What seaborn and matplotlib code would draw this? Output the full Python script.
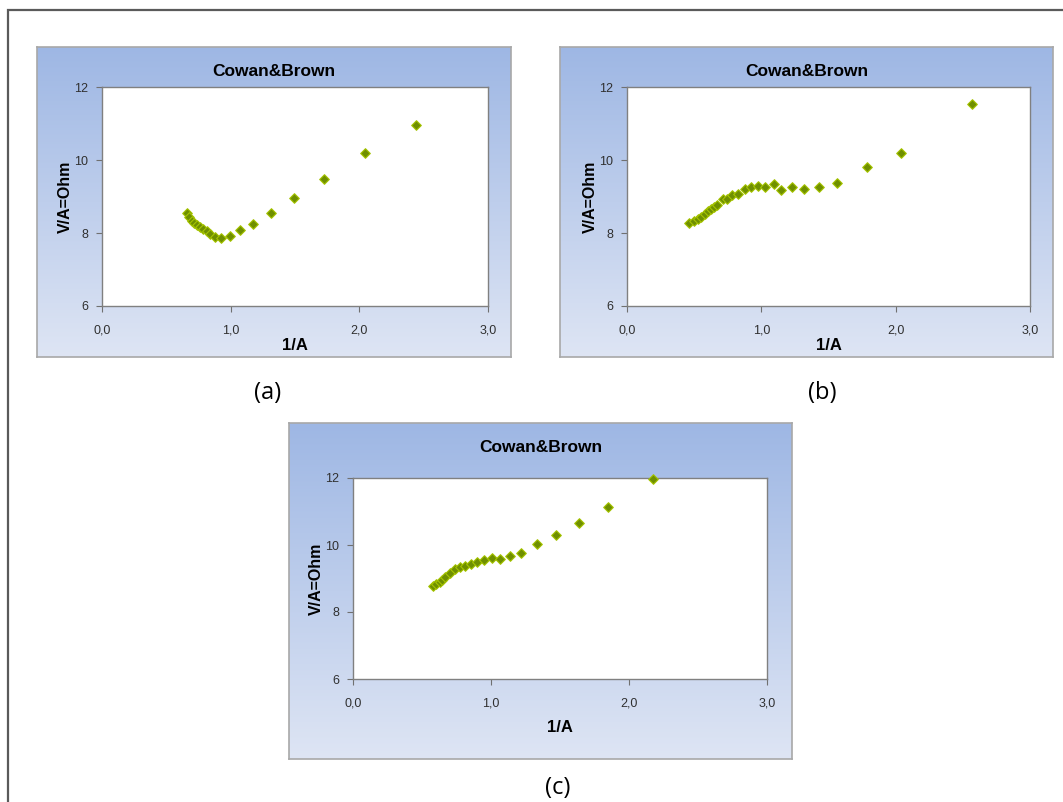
import numpy as np
import pandas as pd
import matplotlib
matplotlib.use("Agg")
import matplotlib.pyplot as plt
import seaborn as sns
from matplotlib.patches import Rectangle

sns.set_theme(style="white")
plt.rcParams['font.family'] = ['Liberation Sans', 'DejaVu Sans']

# ---- data ----
a_x = [0.658, 0.676, 0.696, 0.717, 0.740, 0.764, 0.787, 0.813, 0.841, 0.878,
       0.927, 0.991, 1.074, 1.175, 1.315, 1.494, 1.727, 2.042, 2.441]
a_y = [8.56, 8.44, 8.33, 8.27, 8.21, 8.16, 8.10, 8.06, 7.97, 7.88,
       7.86, 7.92, 8.07, 8.24, 8.55, 8.95, 9.48, 10.20, 10.97]

b_x = [0.459, 0.497, 0.529, 0.554, 0.581, 0.606, 0.626, 0.646, 0.670, 0.713,
       0.742, 0.785, 0.824, 0.877, 0.926, 0.978, 1.031, 1.098, 1.150, 1.232,
       1.314, 1.428, 1.562, 1.783, 2.041, 2.565]
b_y = [8.28, 8.33, 8.38, 8.43, 8.51, 8.59, 8.65, 8.71, 8.76, 8.92,
       8.94, 9.04, 9.07, 9.20, 9.26, 9.30, 9.26, 9.34, 9.18, 9.26,
       9.20, 9.27, 9.37, 9.80, 10.20, 11.53]

c_x = [0.583, 0.605, 0.627, 0.648, 0.668, 0.704, 0.738, 0.774, 0.813, 0.854,
       0.898, 0.951, 1.009, 1.065, 1.135, 1.219, 1.333, 1.471, 1.636, 1.851,
       2.173]
c_y = [8.78, 8.85, 8.91, 8.97, 9.03, 9.17, 9.28, 9.33, 9.37, 9.42,
       9.48, 9.55, 9.61, 9.59, 9.67, 9.77, 10.02, 10.31, 10.66, 11.13,
       11.98]

title = "Cowan&Brown"
x_label = "1/A"
y_label = "V/A=Ohm"
x_ticks = [0, 1, 2, 3]
x_tick_labels = ["0,0", "1,0", "2,0", "3,0"]
y_ticks = [6, 8, 10, 12]
y_tick_labels = ["6", "8", "10", "12"]
panel_tags = ["(a)", "(b)", "(c)"]

W, H = 1063, 802
fig = plt.figure(figsize=(W / 100, H / 100), dpi=100)
fig.patch.set_facecolor("white")


def fr(x0, y0, x1, y1):
    return [x0 / W, 1 - y1 / H, (x1 - x0) / W, (y1 - y0) / H]


# outer frame
fig.patches.append(Rectangle((8 / W, -0.05), 1.2, 1 - 10 / H + 0.05,
                             transform=fig.transFigure, fill=False,
                             edgecolor="#5a5a5a", linewidth=1.6, zorder=0))

grad = np.linspace(0, 1, 256).reshape(-1, 1)
top_c = np.array([158, 183, 228]) / 255
bot_c = np.array([222, 229, 244]) / 255
img = top_c[None, None, :] * (1 - grad[:, :, None]) + bot_c[None, None, :] * grad[:, :, None]

panels = [
    (a_x, a_y, (37, 47, 511, 357), (102, 87, 488, 306), 65, (268, 393)),
    (b_x, b_y, (560, 47, 1053, 357), (627, 87, 1030, 306), 590, (822, 393)),
    (c_x, c_y, (289, 423, 792, 759), (353, 478, 767, 679), 316, (558, 788)),
]

for i, (xs, ys, box, area, ylab_x, tag_pos) in enumerate(panels):
    bg = fig.add_axes(fr(*box))
    bg.imshow(img, aspect="auto", extent=[0, 1, 0, 1], origin="upper")
    bg.set_xlim(0, 1)
    bg.set_ylim(0, 1)
    bg.set_xticks([])
    bg.set_yticks([])
    for s in bg.spines.values():
        s.set_color("#a8a8a8")
        s.set_linewidth(1.2)

    ax = fig.add_axes(fr(*area))
    df = pd.DataFrame({"x": xs, "y": ys})
    sns.scatterplot(data=df, x="x", y="y", ax=ax, marker="D", s=24,
                    color="#6f8f00", edgecolor="#a6c400", linewidth=0.8,
                    zorder=3, clip_on=False)
    ax.set_facecolor("white")
    ax.set_xlim(0, 3)
    ax.set_ylim(6, 12)
    ax.set_xticks(x_ticks)
    ax.set_xticklabels(x_tick_labels)
    ax.set_yticks(y_ticks)
    ax.set_yticklabels(y_tick_labels)
    ax.tick_params(axis="both", which="both", direction="out", length=4,
                   width=0.8, color="#707070", labelsize=9,
                   labelcolor="#303030", left=True, bottom=True)
    ax.tick_params(axis="x", pad=9)
    ax.tick_params(axis="y", pad=6)
    for s in ax.spines.values():
        s.set_color("#808080")
        s.set_linewidth(1.0)
    ax.set_xlabel("")
    ax.set_ylabel("")

    # title
    cx = (box[0] + box[2]) / 2
    ty = box[1] + 25
    fig.text(cx / W, 1 - ty / H, title, ha="center", va="center",
             fontsize=12.5, fontweight="bold", color="black")
    # x label
    xl_cx = (area[0] + area[2]) / 2
    xl_y = area[3] + 40 if i < 2 else area[3] + 48
    fig.text(xl_cx / W, 1 - xl_y / H, x_label, ha="center", va="center",
             fontsize=12, fontweight="bold", color="black")
    # y label
    yl_cy = (area[1] + area[3]) / 2
    fig.text(ylab_x / W, 1 - yl_cy / H, y_label, ha="center", va="center",
             rotation=90, fontsize=11.5, fontweight="bold", color="black")
    # panel tag
    fig.text(tag_pos[0] / W, 1 - tag_pos[1] / H, panel_tags[i], ha="center",
             va="center", fontsize=17, color="black",
             family=["Open Sans", "DejaVu Sans"])

fig.savefig("out.png", dpi=100)
